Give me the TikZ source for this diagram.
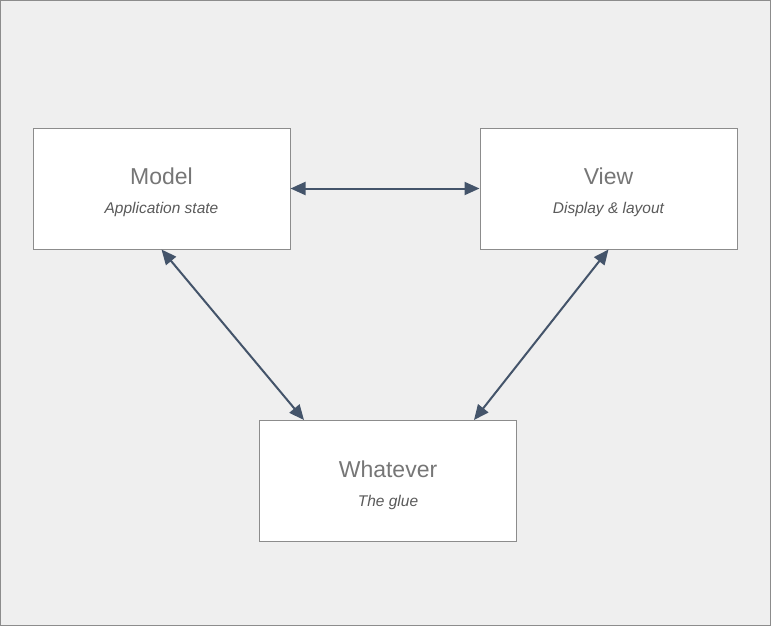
\documentclass[tikz,border=0pt]{standalone}
\usepackage{fontspec}
\setmainfont{Liberation Sans}
\usetikzlibrary{arrows.meta}
\definecolor{canvas}{HTML}{EFEFEF}
\definecolor{frame}{HTML}{8C8C8C}
\definecolor{link}{HTML}{44546A}
\definecolor{headtext}{HTML}{767676}
\definecolor{subtext}{HTML}{5A5A5A}
\tikzset{
	block/.style={draw=frame, fill=white, line width=1pt, minimum width=257pt, minimum height=121pt, inner sep=0pt, align=center},
	link/.style={draw=link, line width=2pt, {Triangle[length=15pt,width=13pt]}-{Triangle[length=15pt,width=13pt]}}
}
\newcommand{\blocktext}[2]{{\fontsize{23}{23}\selectfont\color{headtext}\rule{0pt}{25pt}#1}\\[17pt]{\fontsize{15.5}{15.5}\selectfont\itshape\color{subtext}#2}}
\begin{document}
\begin{tikzpicture}[x=1pt, y=-1pt]
		\draw[fill=canvas, draw=frame] (0.5, 0.5) rectangle (770.5, 625.5);
		\useasboundingbox (0, 0) rectangle (771, 626);

		\node[block] (M) at (161.5, 188.5) {\blocktext{Model}{Application state}};
		\node[block] (V) at (608.5, 188.5) {\blocktext{View}{Display \& layout}};
		\node[block] (W) at (388, 481) {\blocktext{Whatever}{The glue}};

		\draw[link] (M.east) -- (V.west);
		\draw[link] (M.south) -- ([xshift=45pt]W.north west);
		\draw[link] (V.south) -- ([xshift=-43pt]W.north east);
	\end{tikzpicture}
\end{document}
